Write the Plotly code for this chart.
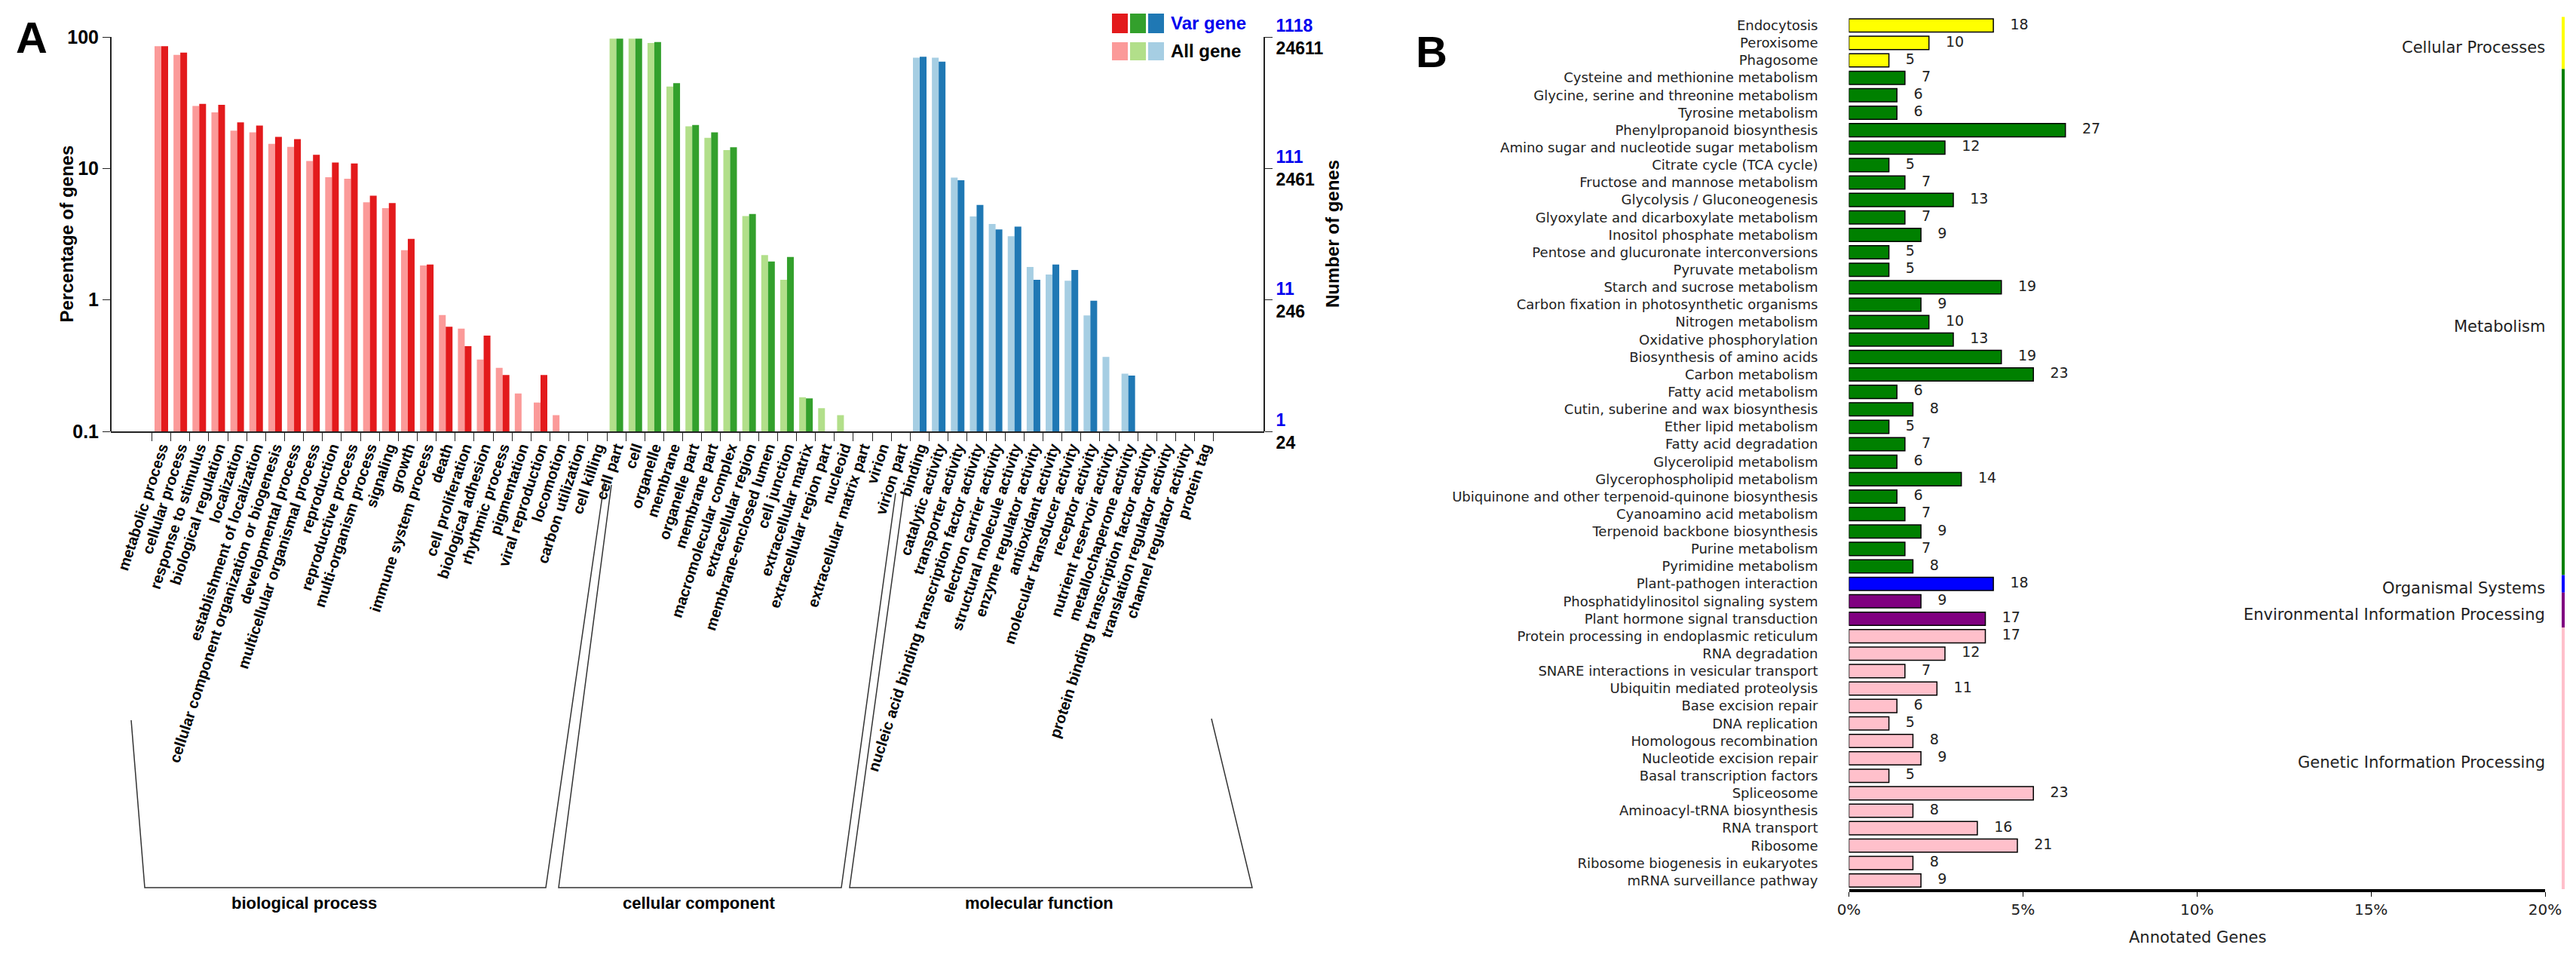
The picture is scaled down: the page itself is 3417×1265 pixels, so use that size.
import plotly.graph_objects as go

W, H = 3417, 1265
def px(x): return x / W
def py(y): return 1 - y / H

# ---------------- Panel A data ----------------
bp_terms = ["metabolic process", "cellular process", "response to stimulus", "biological regulation",
            "localization", "establishment of localization", "cellular component organization or biogenesis",
            "developmental process", "multicellular organismal process", "reproduction", "reproductive process",
            "multi-organism process", "signaling", "growth", "immune system process", "death",
            "cell proliferation", "biological adhesion", "rhythmic process", "pigmentation",
            "viral reproduction", "locomotion", "carbon utilization", "cell killing"]
bp_all = [85, 73, 29.9, 26.7, 19.4, 18.8, 15.4, 14.6, 11.4, 8.57, 8.35, 5.52, 4.99, 2.39, 1.83, 0.767,
          0.605, 0.352, 0.304, 0.194, 0.166, 0.133, None, None]
bp_var = [85, 76, 31, 30.5, 22.4, 21.2, 17.4, 16.7, 12.7, 11.1, 10.9, 6.2, 5.45, 2.91, 1.86, 0.624,
          0.445, 0.535, 0.268, None, 0.268, None, None, None]

cc_terms = ["cell part", "cell", "organelle", "membrane", "organelle part", "membrane part",
            "macromolecular complex", "extracellular region", "membrane-enclosed lumen", "cell junction",
            "extracellular matrix", "extracellular region part", "nucleoid", "extracellular matrix part",
            "virion", "virion part"]
cc_all = [97, 97, 90, 42, 20.9, 17.1, 13.8, 4.34, 2.19, 1.42, 0.182, 0.150, 0.133, None, None, None]
cc_var = [97, 97, 91.5, 44.5, 21.4, 18.8, 14.5, 4.5, 1.96, 2.12, 0.178, None, None, None, None, None]

mf_terms = ["binding", "catalytic activity", "transporter activity",
            "nucleic acid binding transcription factor activity", "electron carrier activity",
            "structural molecule activity", "enzyme regulator activity", "antioxidant activity",
            "molecular transducer activity", "receptor activity", "nutrient reservoir activity",
            "metallochaperone activity", "protein binding transcription factor activity",
            "translation regulator activity", "channel regulator activity", "protein tag"]
mf_all = [69.6, 69.6, 8.52, 4.31, 3.78, 3.05, 1.78, 1.56, 1.40, 0.762, 0.368, 0.275, None, None, None, None]
mf_var = [70.7, 64.9, 8.13, 5.27, 3.43, 3.61, 1.42, 1.86, 1.69, 0.986, None, 0.266, None, None, None, None]

group_names = ["biological process", "cellular component", "molecular function"]
light_colors = ["#FB9A99", "#B2DF8A", "#A6CEE3"]
dark_colors = ["#E31A1C", "#33A02C", "#1F78B4"]

right_var_ticks = ["1118", "111", "11", "1"]
right_all_ticks = ["24611", "2461", "246", "24"]
left_ticks = ["100", "10", "1", "0.1"]

# ---------------- Panel B data ----------------
kegg_terms = ["Endocytosis", "Peroxisome", "Phagosome",
              "Cysteine and methionine metabolism", "Glycine, serine and threonine metabolism",
              "Tyrosine metabolism", "Phenylpropanoid biosynthesis", "Amino sugar and nucleotide sugar metabolism",
              "Citrate cycle (TCA cycle)", "Fructose and mannose metabolism", "Glycolysis / Gluconeogenesis",
              "Glyoxylate and dicarboxylate metabolism", "Inositol phosphate metabolism",
              "Pentose and glucuronate interconversions", "Pyruvate metabolism", "Starch and sucrose metabolism",
              "Carbon fixation in photosynthetic organisms", "Nitrogen metabolism", "Oxidative phosphorylation",
              "Biosynthesis of amino acids", "Carbon metabolism", "Fatty acid metabolism",
              "Cutin, suberine and wax biosynthesis", "Ether lipid metabolism", "Fatty acid degradation",
              "Glycerolipid metabolism", "Glycerophospholipid metabolism",
              "Ubiquinone and other terpenoid-quinone biosynthesis", "Cyanoamino acid metabolism",
              "Terpenoid backbone biosynthesis", "Purine metabolism", "Pyrimidine metabolism",
              "Plant-pathogen interaction",
              "Phosphatidylinositol signaling system", "Plant hormone signal transduction",
              "Protein processing in endoplasmic reticulum", "RNA degradation",
              "SNARE interactions in vesicular transport", "Ubiquitin mediated proteolysis",
              "Base excision repair", "DNA replication", "Homologous recombination",
              "Nucleotide excision repair", "Basal transcription factors", "Spliceosome",
              "Aminoacyl-tRNA biosynthesis", "RNA transport", "Ribosome",
              "Ribosome biogenesis in eukaryotes", "mRNA surveillance pathway"]
kegg_counts = [18, 10, 5, 7, 6, 6, 27, 12, 5, 7, 13, 7, 9, 5, 5, 19, 9, 10, 13, 19, 23, 6, 8, 5, 7, 6, 14,
               6, 7, 9, 7, 8, 18, 9, 17, 17, 12, 7, 11, 6, 5, 8, 9, 5, 23, 8, 16, 21, 8, 9]
kegg_pct = [4.15, 2.30, 1.15, 1.61, 1.38, 1.38, 6.22, 2.76, 1.15, 1.61, 3.00, 1.61, 2.07, 1.15, 1.15, 4.38,
            2.07, 2.30, 3.00, 4.38, 5.30, 1.38, 1.84, 1.15, 1.61, 1.38, 3.23, 1.38, 1.61, 2.07, 1.61, 1.84,
            4.15, 2.07, 3.92, 3.92, 2.76, 1.61, 2.53, 1.38, 1.15, 1.84, 2.07, 1.15, 5.30, 1.84, 3.69, 4.84,
            1.84, 2.07]
kegg_groups = ["Cellular Processes", "Metabolism", "Organismal Systems",
               "Environmental Information Processing", "Genetic Information Processing"]
kegg_group_sizes = [3, 29, 1, 2, 15]
kegg_group_colors = ["#FFFF00", "#008000", "#0000FF", "#800080", "#FFC0CB"]
pct_ticks = [0, 5, 10, 15, 20]

# ---------------- build panel A ----------------
terms = bp_terms + cc_terms + mf_terms
all_vals = bp_all + cc_all + mf_all
var_vals = bp_var + cc_var + mf_var
gidx = [0] * len(bp_terms) + [1] * len(cc_terms) + [2] * len(mf_terms)

fig = go.Figure()
bw = 0.358
fig.add_trace(go.Bar(x=terms, y=all_vals, width=bw, offset=-bw,
                     marker=dict(color=[light_colors[g] for g in gidx], line=dict(width=0)),
                     name="All gene", showlegend=False, xaxis="x", yaxis="y"))
fig.add_trace(go.Bar(x=terms, y=var_vals, width=bw, offset=0,
                     marker=dict(color=[dark_colors[g] for g in gidx], line=dict(width=0)),
                     name="Var gene", showlegend=False, xaxis="x", yaxis="y"))
fig.add_trace(go.Scatter(x=[terms[0]], y=[1], mode="markers", marker=dict(opacity=0),
                         showlegend=False, hoverinfo="skip", xaxis="x", yaxis="y2"))

# ---------------- build panel B ----------------
bar_colors = []
for c, n in zip(kegg_group_colors, kegg_group_sizes):
    bar_colors += [c] * n
fig.add_trace(go.Bar(y=kegg_terms, x=kegg_pct, orientation="h", width=0.76,
                     marker=dict(color=bar_colors, line=dict(color="black", width=1.5)),
                     showlegend=False, xaxis="x3", yaxis="y3"))
fig.add_trace(go.Scatter(y=kegg_terms, x=kegg_pct, mode="markers+text", text=[str(c) for c in kegg_counts],
                         textposition="middle right", marker=dict(size=34, opacity=0),
                         textfont=dict(family="DejaVu Sans", size=19, color="#222222"),
                         showlegend=False, hoverinfo="skip", xaxis="x3", yaxis="y3"))

axA_left, axA_right = 147, 1677
yA_top, yA_bot = 49, 572
first_c, step = 214, 25.15
x_lo = (axA_left - first_c) / step
x_hi = (axA_right - first_c) / step

fontA = "Liberation Sans"
fig.update_layout(
    template="none",
    width=W, height=H, margin=dict(l=0, r=0, t=0, b=0, pad=0, autoexpand=False),
    paper_bgcolor="white", plot_bgcolor="rgba(0,0,0,0)",
    xaxis=dict(domain=[px(axA_left), px(axA_right)], type="category", categoryorder="array",
               categoryarray=terms, range=[x_lo, x_hi], tickangle=-72, tickson="boundaries",
               ticks="outside", ticklen=11, tickcolor="#222", showline=True, linecolor="#222", linewidth=2,
               showgrid=False, zeroline=False, anchor="y", automargin=False,
               tickfont=dict(family=fontA, size=20, color="black", weight="bold")),
    yaxis=dict(domain=[py(yA_bot), py(yA_top)], type="log", range=[-1, 2],
               tickvals=[100, 10, 1, 0.1], ticktext=left_ticks, ticks="outside", ticklen=10,
               tickcolor="#222", showline=True, linecolor="#222", linewidth=2, showgrid=False,
               zeroline=False, anchor="free", position=px(axA_left), automargin=False,
               tickfont=dict(family=fontA, size=25, color="black", weight="bold")),
    yaxis2=dict(overlaying="y", side="right", type="log", range=[-1, 2], anchor="free",
                position=px(axA_right), tickvals=[100, 10, 1, 0.1],
                ticktext=[f"<span style='color:#0000EE'>{v}</span><br>{a}" for v, a in zip(right_var_ticks, right_all_ticks)],
                ticks="outside", ticklen=10, tickcolor="#222", showline=True, linecolor="#222", linewidth=2,
                showgrid=False, zeroline=False, automargin=False,
                tickfont=dict(family=fontA, size=23, color="black", weight="bold")),
    xaxis3=dict(domain=[px(2452.5), px(3376)], range=[0, 20], tickvals=pct_ticks,
                ticktext=[f"{t}%" for t in pct_ticks], ticks="outside", ticklen=6, tickcolor="black",
                showline=True, linecolor="black", linewidth=4, showgrid=False, zeroline=False, anchor="y3",
                automargin=False, tickfont=dict(family="DejaVu Sans", size=20, color="#222")),
    yaxis3=dict(domain=[py(1179.1), py(22.2)], type="category", categoryorder="array",
                categoryarray=kegg_terms, range=[len(kegg_terms) - 0.5, -0.5], showline=False,
                showgrid=False, zeroline=False, ticks="", ticklabelstandoff=40, anchor="x3",
                automargin=False, tickfont=dict(family="DejaVu Sans", size=18, color="#222")),
    showlegend=False,
)

ann = []
shapes = []
def note(x, y, text, size, family=fontA, color="black", xanchor="center", angle=0, xref="paper", yref="paper"):
    ann.append(dict(x=x, y=y, xref=xref, yref=yref, text=text, showarrow=False, xanchor=xanchor,
                    yanchor="middle", textangle=angle, font=dict(family=family, size=size, color=color)))

note(px(42), py(50), "<b>A</b>", 58)
note(px(1899), py(68), "<b>B</b>", 58)
note(px(88), py((yA_top + yA_bot) / 2), "<b>Percentage of genes</b>", 24, angle=-90)
note(px(1767), py(310), "<b>Number of genes</b>", 24, angle=-90)
note(px(2915), py(1243), "Annotated Genes", 21, family="DejaVu Sans", color="#222")

sq_x = [1475, 1499, 1523]
for i in range(3):
    shapes.append(dict(type="rect", xref="paper", yref="paper", x0=px(sq_x[i]), x1=px(sq_x[i] + 21),
                       y0=py(44), y1=py(18), fillcolor=dark_colors[i], line=dict(width=0)))
    shapes.append(dict(type="rect", xref="paper", yref="paper", x0=px(sq_x[i]), x1=px(sq_x[i] + 21),
                       y0=py(80), y1=py(56), fillcolor=light_colors[i], line=dict(width=0)))
note(px(1551), py(31), "<b>Var gene</b>", 24, color="#0000EE", xanchor="left")
note(px(1551), py(67), "<b>All gene</b>", 24, xanchor="left")

brackets = [
    [(174, 955), (192, 1177), (724, 1177), (802, 637)],
    [(811, 643), (741, 1177), (1116, 1177), (1188, 654)],
    [(1199, 654), (1127, 1177), (1661, 1177), (1607, 953)],
]
for pts in brackets:
    path = "M " + " L ".join(f"{px(x)},{py(y)}" for x, y in pts)
    shapes.append(dict(type="path", xref="paper", yref="paper", path=path, line=dict(color="#333", width=1.5)))
grp_x = [403, 927, 1378]
for name, gx in zip(group_names, grp_x):
    note(px(gx), py(1197), f"<b>{name}</b>", 22)

start = 0
for name, n, col in zip(kegg_groups, kegg_group_sizes, kegg_group_colors):
    shapes.append(dict(type="line", xref="paper", yref="y3", x0=px(3400), x1=px(3400),
                       y0=start - 0.5, y1=start + n - 0.5, line=dict(color=col, width=4)))
    mid = start + (n - 1) / 2 + 0.25
    note(px(3378), mid, name, 21, family="DejaVu Sans", color="#222", xanchor="right", yref="y3")
    start += n

fig.update_layout(annotations=ann, shapes=shapes)
fig.write_html("out.html", config={"displayModeBar": False},
               post_script="document.body.style.margin='0px';document.body.style.overflow='hidden';")
